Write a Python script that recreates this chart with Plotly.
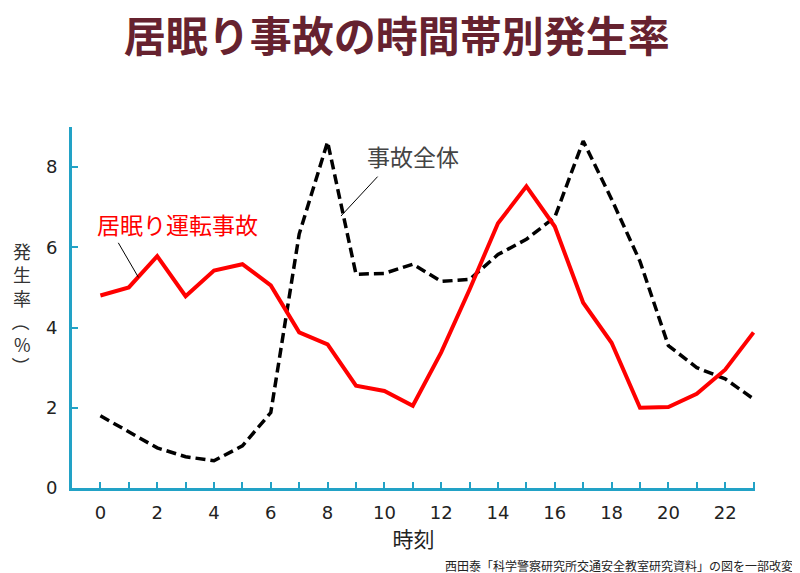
import plotly.graph_objects as go

hours = list(range(24))
drowsy = [4.8, 5.0, 5.78, 4.78, 5.42, 5.58, 5.05, 3.88, 3.58, 2.55, 2.42, 2.05,
          3.38, 4.95, 6.6, 7.52, 6.52, 4.62, 3.62, 2.0, 2.02, 2.35, 2.95, 3.88]
total = [1.8, 1.41, 1.0, 0.78, 0.68, 1.05, 1.88, 6.33, 8.63, 5.33, 5.35, 5.58,
         5.15, 5.2, 5.82, 6.2, 6.75, 8.65, 7.2, 5.65, 3.55, 3.0, 2.72, 2.22]
x_ticks = [0, 2, 4, 6, 8, 10, 12, 14, 16, 18, 20, 22]
y_ticks = [0, 2, 4, 6, 8]

title_text = "居眠り事故の時間帯別発生率"
drowsy_name = "居眠り運転事故"
total_name = "事故全体"
x_title = "時刻"
y_title_main = ["発", "生", "率"]
y_title_unit = "%"
source_text = "西田泰「科学警察研究所交通安全教室研究資料」の図を一部改変"

axis_color = "#22a2c6"
font_jp = "Noto Sans CJK JP"

fig = go.Figure()
fig.add_trace(go.Scatter(x=hours, y=total, mode="lines", name=total_name,
                         line=dict(color="black", width=3.5, dash="10px,5px")))
fig.add_trace(go.Scatter(x=hours, y=drowsy, mode="lines", name=drowsy_name,
                         line=dict(color="#ff0000", width=4)))

# page body has an 8px margin, so the figure is drawn at (8, 8)
fig.update_layout(
    width=792, height=565,
    margin=dict(l=64, r=45, t=119, b=85, autoexpand=False),
    plot_bgcolor="white", paper_bgcolor="white",
    showlegend=False,
    font=dict(family="DejaVu Sans", size=18, color="#222"),
    title=dict(text="<b>" + title_text + "</b>", x=0.491, xanchor="center",
               y=0.948, yanchor="middle",
               font=dict(family=font_jp, size=42, color="#66222f")),
)
fig.update_xaxes(range=[-1, 23.05], tickmode="array", tickvals=x_ticks,
                 showgrid=False, zeroline=False, showline=True,
                 linecolor=axis_color, linewidth=3,
                 ticks="inside", ticklen=6, tickwidth=2, tickcolor=axis_color,
                 minor=dict(dtick=1, tick0=0, ticks="inside", ticklen=6,
                            tickwidth=2, tickcolor=axis_color),
                 ticklabelstandoff=6,
                 title=dict(text=x_title, font=dict(family=font_jp, size=21, color="#222"),
                            standoff=6))
fig.update_yaxes(range=[0, 9], tickmode="array", tickvals=y_ticks,
                 showgrid=False, zeroline=False, showline=True,
                 linecolor=axis_color, linewidth=3,
                 ticks="inside", ticklen=6, tickwidth=2, tickcolor=axis_color,
                 ticklabelstandoff=8)

# series labels
fig.add_annotation(x=-0.2, y=6.58, xref="x", yref="y", text=drowsy_name,
                   showarrow=False, xanchor="left", yanchor="middle",
                   font=dict(family=font_jp, size=23, color="#ff0000"))
fig.add_annotation(x=1.34, y=5.25, ax=0.6, ay=6.15, axref="x", ayref="y",
                   xref="x", yref="y", text="", showarrow=True, arrowhead=0,
                   arrowwidth=1, arrowcolor="black")
fig.add_annotation(x=9.3, y=8.28, xref="x", yref="y", text=total_name,
                   showarrow=False, xanchor="left", yanchor="middle",
                   font=dict(family=font_jp, size=23, color="#444"))
fig.add_annotation(x=8.47, y=6.78, ax=9.81, ay=7.8, axref="x", ayref="y",
                   xref="x", yref="y", text="", showarrow=True, arrowhead=0,
                   arrowwidth=1, arrowcolor="black")

# vertical y-axis title
yt_font = dict(family=font_jp, size=18, color="#333")
yx = -(72 - 22) / 683
fig.add_annotation(x=yx, y=(488 - 274) / 361, xref="x domain", yref="y domain",
                   text="<br>".join(y_title_main), showarrow=False,
                   xanchor="center", yanchor="middle", font=yt_font)
fig.add_annotation(x=yx, y=(488 - 322) / 361, xref="x domain", yref="y domain",
                   text="（", textangle=90, showarrow=False, xanchor="center", yanchor="middle",
                   font=yt_font)
fig.add_annotation(x=yx, y=(488 - 344) / 361, xref="x domain", yref="y domain",
                   text=y_title_unit, showarrow=False, xanchor="center", yanchor="middle",
                   font=yt_font)
fig.add_annotation(x=yx, y=(488 - 366) / 361, xref="x domain", yref="y domain",
                   text="）", textangle=90, showarrow=False, xanchor="center", yanchor="middle",
                   font=yt_font)

fig.add_annotation(x=(795 - 72) / 683, y=-(565 - 488) / 361, xref="paper", yref="paper",
                   text=source_text, showarrow=False, xanchor="right", yanchor="middle",
                   font=dict(family=font_jp, size=12, color="#222"))

fig.write_html("out.html")
